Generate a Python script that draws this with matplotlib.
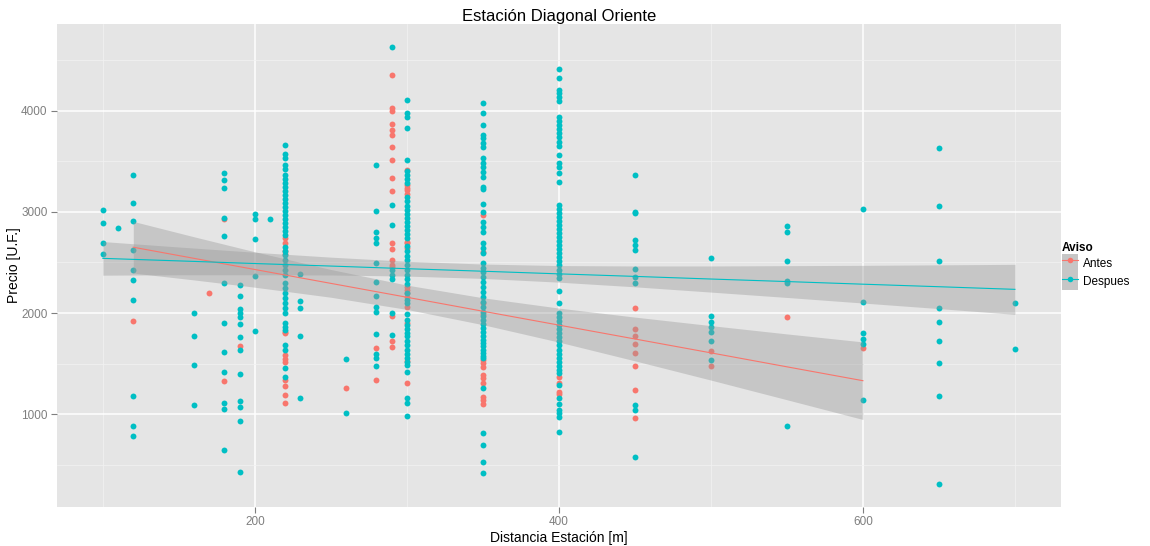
import matplotlib
matplotlib.use("Agg")
import matplotlib.pyplot as plt
from matplotlib.lines import Line2D
from matplotlib.patches import Patch
from matplotlib.legend_handler import HandlerTuple

plt.rcParams['font.family'] = ['Liberation Sans', 'DejaVu Sans']

# precio [U.F.] por distancia a la estacion, avisos antes de la estacion
antes = {
    120: [1925],
    170: [2200],
    180: [2925, 1330],
    190: [1677],
    220: [2740, 2690, 2610, 2580, 1810, 1800, 1590, 1550, 1520, 1340, 1275, 1190, 1108],
    260: [1256],
    280: [1659, 1336],
    290: [4351, 4021, 3995, 3863, 3807, 3758, 3636, 3511, 3330, 3208, 2695, 2629,
          2524, 2474, 2450, 1974, 1727, 1661],
    300: [3412, 3260, 3230, 3215, 3180, 2705, 2690, 2640, 2260, 2230, 2200, 2160,
          2063, 1898, 1530, 1306],
    350: [2968, 2606, 2096, 1990, 1536, 1503, 1470, 1388, 1355, 1305, 1174, 1141, 1102],
    400: [1371, 1305, 1223, 1200],
    450: [2050, 1839, 1770, 1694, 1602, 1480, 1241, 960],
    500: [1625, 1480],
    550: [1957],
    600: [1651],
}

# avisos despues
despues = {
    100: [3020, 2885, 2690, 2580],
    110: [2843],
    120: [3365, 3090, 2905, 2622, 2425, 2323, 2128, 1176, 884, 790],
    160: [2003, 1773, 1485, 1090],
    180: [3382, 3318, 3236, 2938, 2758, 2299, 1899, 1618, 1413, 1109, 1050, 647],
    190: [2275, 2171, 2040, 2000, 1960, 1888, 1762, 1633, 1395, 1133, 1075, 937, 428],
    200: [2982, 2924, 2734, 2365, 1822],
    210: [2924],
    220: [3659, 3570, 3528, 3462, 3419, 3363, 3320, 3281, 3241, 3202, 3162, 3123,
          3083, 3044, 3004, 2965, 2925, 2886, 2846, 2807, 2767, 2655, 2616, 2570,
          2524, 2474, 2425, 2375, 2293, 2244, 2194, 2145, 2096, 2046, 2003, 1905,
          1865, 1835, 1684, 1635, 1454, 1371],
    230: [2385, 2122, 2053, 1773, 1157],
    260: [1546, 1010],
    280: [3466, 3005, 2797, 2740, 2690, 2498, 2306, 2170, 2064, 2013, 1790, 1598,
          1556, 1480],
    290: [4624, 3067, 2869, 2425, 2375, 2333, 1997, 1780],
    300: [4104, 3972, 3939, 3824, 3511, 3400, 3363, 3320, 3280, 3150, 3110, 3060,
          3020, 2980, 2940, 2900, 2860, 2820, 2780, 2740, 2660, 2610, 2560, 2520,
          2470, 2430, 2380, 2340, 2290, 2200, 2130, 2100, 1990, 1931, 1880, 1840,
          1800, 1770, 1720, 1680, 1640, 1600, 1560, 1520, 1490, 1420, 1158, 1108, 986],
    350: [4075, 3979, 3857, 3758, 3725, 3676, 3636, 3528, 3485, 3439, 3396, 3347,
          3248, 3221, 3073, 3001, 2902, 2853, 2803, 2688, 2639, 2589, 2491, 2441,
          2408, 2359, 2310, 2260, 2211, 2161, 2112, 2063, 2013, 1970, 1930, 1890,
          1850, 1810, 1770, 1730, 1700, 1670, 1640, 1610, 1580, 1552, 1256, 815,
          697, 525, 425],
    400: [4407, 4318, 4202, 4170, 4137, 4097, 3939, 3900, 3857, 3814, 3775, 3742,
          3692, 3649, 3561, 3478, 3445, 3380, 3297, 3067, 3030, 2990, 2950, 2910,
          2870, 2830, 2790, 2750, 2710, 2670, 2630, 2590, 2550, 2510, 2470, 2430,
          2390, 2350, 2217, 2102, 1997, 1960, 1920, 1880, 1840, 1800, 1760, 1720,
          1680, 1640, 1600, 1560, 1520, 1480, 1440, 1404, 1290, 1160, 1100, 1042,
          1010, 976, 828],
    450: [3363, 3001, 2985, 2721, 2672, 2619, 2433, 2356, 2300, 1092, 1039, 582],
    500: [2540, 1974, 1908, 1865, 1816, 1727, 1536],
    550: [2859, 2803, 2514, 2320, 2300, 884],
    600: [3024, 2112, 1806, 1740, 1691, 1141],
    650: [3630, 3057, 2517, 2050, 1915, 1727, 1510, 1181, 308],
    700: [2102, 1641],
}

# recta lm y banda de confianza
antes_fit_x = [120, 160, 200, 250, 300, 350, 400, 450, 500, 550, 600]
antes_fit_y = [2650, 2540, 2430, 2293, 2156, 2018, 1881, 1744, 1607, 1469, 1332]
antes_lo = [2395, 2327, 2255, 2156, 2036, 1885, 1713, 1528, 1338, 1144, 949]
antes_hi = [2905, 2753, 2605, 2430, 2276, 2151, 2049, 1960, 1876, 1794, 1715]

despues_fit_x = [100, 150, 200, 250, 300, 350, 400, 450, 500, 550, 600, 650, 700]
despues_fit_y = [2540, 2515, 2489, 2464, 2438, 2413, 2387, 2362, 2336, 2311, 2285, 2260, 2234]
despues_lo = [2374, 2378, 2378, 2376, 2365, 2342, 2305, 2259, 2207, 2154, 2099, 2044, 1987]
despues_hi = [2706, 2652, 2600, 2552, 2511, 2484, 2469, 2465, 2465, 2468, 2471, 2476, 2481]

RED = '#F8766D'
CYAN = '#00BFC4'


def flatten(d):
    xs, ys = [], []
    for dist, precios in d.items():
        xs += [dist] * len(precios)
        ys += precios
    return xs, ys


fig = plt.figure(figsize=(11.5, 5.46), dpi=100)
ax = fig.add_axes([0.0498, 0.0722, 0.8724, 0.8838])
ax.set_facecolor('#E5E5E5')

ax_x, ax_y = flatten(antes)
de_x, de_y = flatten(despues)
ax.scatter(ax_x, ax_y, s=18, color=RED, linewidths=0, zorder=3)
ax.scatter(de_x, de_y, s=18, color=CYAN, linewidths=0, zorder=3)

ax.fill_between(antes_fit_x, antes_lo, antes_hi, color='#999999', alpha=0.4,
                linewidth=0, zorder=4)
ax.fill_between(despues_fit_x, despues_lo, despues_hi, color='#999999', alpha=0.4,
                linewidth=0, zorder=4)
ax.plot(antes_fit_x, antes_fit_y, color=RED, lw=0.8, zorder=5)
ax.plot(despues_fit_x, despues_fit_y, color=CYAN, lw=0.8, zorder=5)

ax.set_xlim(70, 730)
ax.set_ylim(89, 4854)
ax.set_xticks([200, 400, 600])
ax.set_xticks([100, 300, 500, 700], minor=True)
ax.set_yticks([1000, 2000, 3000, 4000])
ax.set_yticks([500, 1500, 2500, 3500, 4500], minor=True)
ax.grid(which='major', color='white', lw=1.1, zorder=0)
ax.grid(which='minor', color='#F2F2F2', lw=0.5, zorder=0)
ax.set_axisbelow(True)
for sp in ax.spines.values():
    sp.set_visible(False)
ax.tick_params(which='major', length=4, color='#7F7F7F', labelcolor='#7F7F7F',
               labelsize=8.5, pad=3)
ax.tick_params(which='minor', length=0)

ax.set_title('Estación Diagonal Oriente', fontsize=12, pad=2)
ax.set_xlabel('Distancia Estación [m]', fontsize=10, labelpad=2)
ax.set_ylabel('Precio [U.F.]', fontsize=10, labelpad=0)

handles = [
    (Patch(facecolor='#C6C6C6', edgecolor='none'),
     Line2D([], [], color=RED, lw=0.8, marker='o', markersize=4, markeredgewidth=0)),
    (Patch(facecolor='#C6C6C6', edgecolor='none'),
     Line2D([], [], color=CYAN, lw=0.8, marker='o', markersize=4, markeredgewidth=0)),
]
leg = fig.legend(handles, ['Antes', 'Despues'], title='Aviso',
                 handler_map={tuple: HandlerTuple(ndivide=1, pad=0)},
                 loc='upper left', bbox_to_anchor=(0.916, 0.572), frameon=False,
                 fontsize=8.5, title_fontsize=8.5, handlelength=1.4, handleheight=2.0,
                 handletextpad=0.4, labelspacing=0.0, borderpad=0.2)
leg.get_title().set_fontweight('bold')
leg._legend_box.align = 'left'

fig.savefig('out.png', dpi=100)
